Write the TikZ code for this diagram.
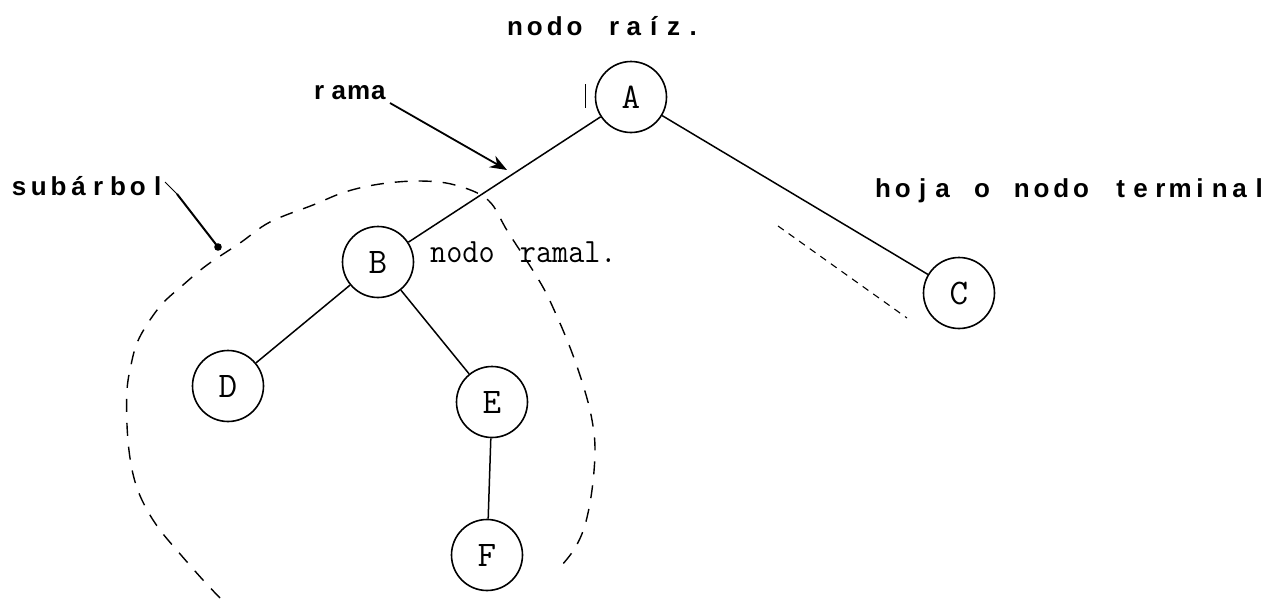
\documentclass[tikz,border=0pt]{standalone}
\usepackage{fontspec}
\newfontfamily\labelfont{Liberation Sans}
\usetikzlibrary{arrows.meta}
% fixed-pitch setting: every character centred in a cell of equal width
\ExplSyntaxOn
\NewDocumentCommand\pitched{O{19.8pt}m}{\tl_map_inline:nn{#2}{\makebox[#1][c]{##1}}}
\ExplSyntaxOff
\begin{document}
\begin{tikzpicture}[x=1pt,y=-1pt,
  treenode/.style={circle,draw,line width=1.6pt,minimum size=71pt,inner sep=0pt,
    font=\fontsize{36}{36}\selectfont\ttfamily},
  branch/.style={line width=1.5pt},
  sanslabel/.style={inner sep=0pt,anchor=base west,font=\fontsize{26}{26}\selectfont\labelfont\bfseries},
  serifnote/.style={inner sep=0pt,anchor=base west,font=\fontsize{34}{34}\selectfont\ttfamily},
  subtree/.style={line width=1.4pt,dash pattern=on 13pt off 11pt},
  leader/.style={line width=1.1pt,dash pattern=on 7pt off 6pt}]
\useasboundingbox (0,0) rectangle (1267,603);

% tree nodes
\node[treenode] (A) at (631,97)  {A};
\node[treenode] (B) at (378,262) {B};
\node[treenode] (C) at (959,293) {C};
\node[treenode] (D) at (228,386) {D};
\node[treenode] (E) at (492,402) {E};
\node[treenode] (F) at (487,555) {F};

% branches
\draw[branch] (A) -- (B);
\draw[branch] (A) -- (C);
\draw[branch] (B) -- (D);
\draw[branch] (B) -- (E);
\draw[branch] (E) -- (F);

% labels
\node[sanslabel] (raiz) at (505,35)  {\pitched{nodo~raíz.}};
\node[sanslabel] (rama) at (309,99)  {\pitched{rama}};
\node[sanslabel] (sub)  at (9,195)   {\pitched{subárbol}};
\node[sanslabel] (hoja) at (873,197) {\pitched{hoja~o~nodo~terminal}};
\node[serifnote] (ramal) at (430,262) {\scalebox{0.92}[1]{nodo\hspace{10pt} ramal.}};

% arrow pointing at a branch
\coordinate (ramaStart) at (390,103);
\coordinate (ramaTip)   at (507,170);
\draw[line width=1.8pt,-{Stealth[length=17pt,width=13pt]}] (ramaStart) -- (ramaTip);

% pointer to the subtree outline
\coordinate (subA) at (165,182);
\coordinate (subB) at (177,194);
\coordinate (subDot) at (218,247);
\draw[line width=0.8pt] (subA) -- (subB);
\draw[line width=2pt] (subB) -- (subDot);
\fill (subDot) circle (3.8pt);

% outline of the subtree rooted at B
\draw[subtree] plot[smooth,tension=0.6] coordinates {
  (220,598) (203,580) (181,555) (160,530) (146,508) (136,485) (130,458)
  (127,425) (127,390) (131,365) (137,343) (148,323) (163,303) (183,285)
  (207,265) (240,243) (270,222) (313,205) (345,192) (380,184) (420,181)
  (455,185) (488,200) (508,232) (540,282) (555,312) (571,350) (584,388)
  (592,420) (595,450) (592,490) (585,525) (575,548) (562,565)};

% dashed leader towards the leaf
\coordinate (leafA) at (778,226);
\coordinate (leafB) at (907,318);
\draw[leader] (leafA) -- (leafB);

% small tick beside the root
\coordinate (tickA) at (585,84);
\coordinate (tickB) at (585,108);
\draw[line width=0.9pt] (tickA) -- (tickB);
\end{tikzpicture}
\end{document}
